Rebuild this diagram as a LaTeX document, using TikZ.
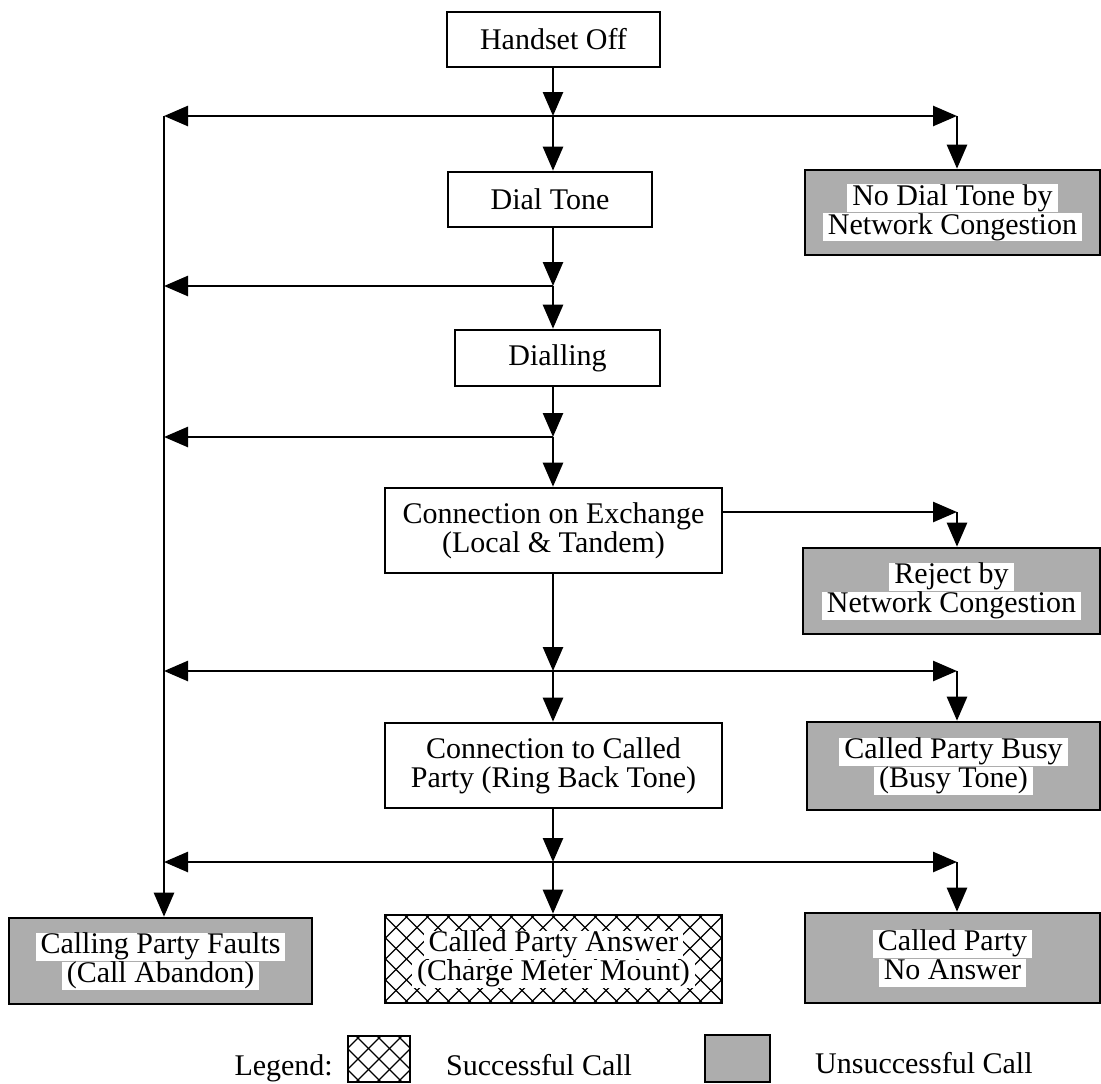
\documentclass[tikz,border=0pt]{standalone}
\usepackage{fontspec}
\setmainfont{Liberation Serif}
\usetikzlibrary{arrows.meta}
% white strip behind one line of text inside a shaded box
\newcommand{\wl}[1]{{\setlength{\fboxsep}{0pt}\colorbox{white}{\rule[-7pt]{0pt}{28pt}\,#1\,}}}
\definecolor{dotgray}{gray}{0.68}

\begin{document}
\begin{tikzpicture}[x=1pt,y=-1pt,
  every node/.style={font=\fontsize{30}{29}\selectfont, inner sep=0pt, align=center},
  hatch/.style={path picture={
    \foreach \k in {-25,...,25} {
      \draw[line width=1.3pt] ([xshift=\k*21pt]path picture bounding box.center) ++(-200pt,-200pt) -- ++(400pt,400pt);
      \draw[line width=1.3pt] ([xshift=\k*21pt]path picture bounding box.center) ++(-200pt,200pt) -- ++(400pt,-400pt);
    }}},
  plainbox/.style={draw, line width=2.6pt, fill=white},
  failbox/.style={draw, line width=2.6pt, fill=dotgray},
  okbox/.style={draw, line width=2.6pt, fill=white, hatch},
  flow/.style={line width=2.6pt, -{Triangle[length=24pt,width=20pt]}},
]
\useasboundingbox (0,0) rectangle (1101,1084);

% main call sequence
\node[plainbox, minimum width=213pt, minimum height=55pt] (hs) at (553.5,39.5) {Handset Off};
\node[plainbox, minimum width=204pt, minimum height=55pt] (dt) at (550,199.5) {Dial Tone};
\node[plainbox, minimum width=205pt, minimum height=56pt] (dl) at (557.5,358) {Dialling};
\node[plainbox, minimum width=337pt, minimum height=85pt] (ce) at (553.5,530.5) {Connection on Exchange\\(Local \& Tandem)};
\node[plainbox, minimum width=337pt, minimum height=85pt] (cc) at (553.5,765.5) {Connection to Called\\Party (Ring Back Tone)};

% outcomes
\node[failbox, minimum width=295pt, minimum height=85pt] (nd) at (952.5,212.5) {\wl{No Dial Tone by}\\\wl{Network Congestion}};
\node[failbox, minimum width=297pt, minimum height=86pt] (rj) at (951.5,591) {\wl{Reject by}\\\wl{Network Congestion}};
\node[failbox, minimum width=293pt, minimum height=88pt] (bs) at (953.5,766) {\wl{Called Party Busy}\\\wl{(Busy Tone)}};
\node[failbox, minimum width=303pt, minimum height=86pt] (cf) at (160.5,961) {\wl{Calling Party Faults}\\\wl{(Call Abandon)}};
\node[okbox, minimum width=337pt, minimum height=88pt] (ca) at (553.5,959) {\wl{Called Party Answer}\\\wl{(Charge Meter Mount)}};
\node[failbox, minimum width=295pt, minimum height=90pt] (na) at (952.5,958) {\wl{Called Party}\\\wl{No Answer}};

% branch points
\coordinate (j1) at (553,116); \coordinate (l1) at (164,116); \coordinate (r1) at (957,116);
\coordinate (j2) at (553,286); \coordinate (l2) at (164,286);
\coordinate (j3) at (553,437); \coordinate (l3) at (164,437);
\coordinate (r3) at (957,512);
\coordinate (j4) at (553,671); \coordinate (l4) at (164,671); \coordinate (r4) at (957,671);
\coordinate (j5) at (553,862); \coordinate (l5) at (164,862); \coordinate (r5) at (957,862);

% connectors
\draw[flow] (l1) -- (l1 |- cf.north);

\draw[flow] (hs.south -| j1) -- (j1);
\draw[flow] (j1) -- (dt.north -| j1);
\draw[flow] (j1) -- (l1);
\draw[flow] (j1) -- (r1);
\draw[flow] (r1) -- (r1 |- nd.north);

\draw[flow] (dt.south -| j2) -- (j2);
\draw[flow] (j2) -- (l2);
\draw[flow] (j2) -- (dl.north -| j2);

\draw[flow] (dl.south -| j3) -- (j3);
\draw[flow] (j3) -- (l3);
\draw[flow] (j3) -- (ce.north -| j3);

\draw[flow] (ce.east |- r3) -- (r3);
\draw[flow] (r3) -- (r3 |- rj.north);

\draw[flow] (ce.south -| j4) -- (j4);
\draw[flow] (j4) -- (l4);
\draw[flow] (j4) -- (r4);
\draw[flow] (r4) -- (r4 |- bs.north);
\draw[flow] (j4) -- (cc.north -| j4);

\draw[flow] (cc.south -| j5) -- (j5);
\draw[flow] (j5) -- (l5);
\draw[flow] (j5) -- (r5);
\draw[flow] (r5) -- (r5 |- na.north);
\draw[flow] (j5) -- (ca.north -| j5);

% legend
\node[anchor=base east] (lg) at (333,1075) {Legend:};
\node[okbox, line width=2pt, minimum width=62pt, minimum height=46pt] (lgs) at (379,1059) {};
\node[anchor=base west] (lgst) at (446,1075) {Successful Call};
\node[failbox, line width=2pt, minimum width=65pt, minimum height=47pt] (lgu) at (737.5,1058.5) {};
\node[anchor=base west] (lgut) at (815,1073) {Unsuccessful Call};
\end{tikzpicture}
\end{document}
